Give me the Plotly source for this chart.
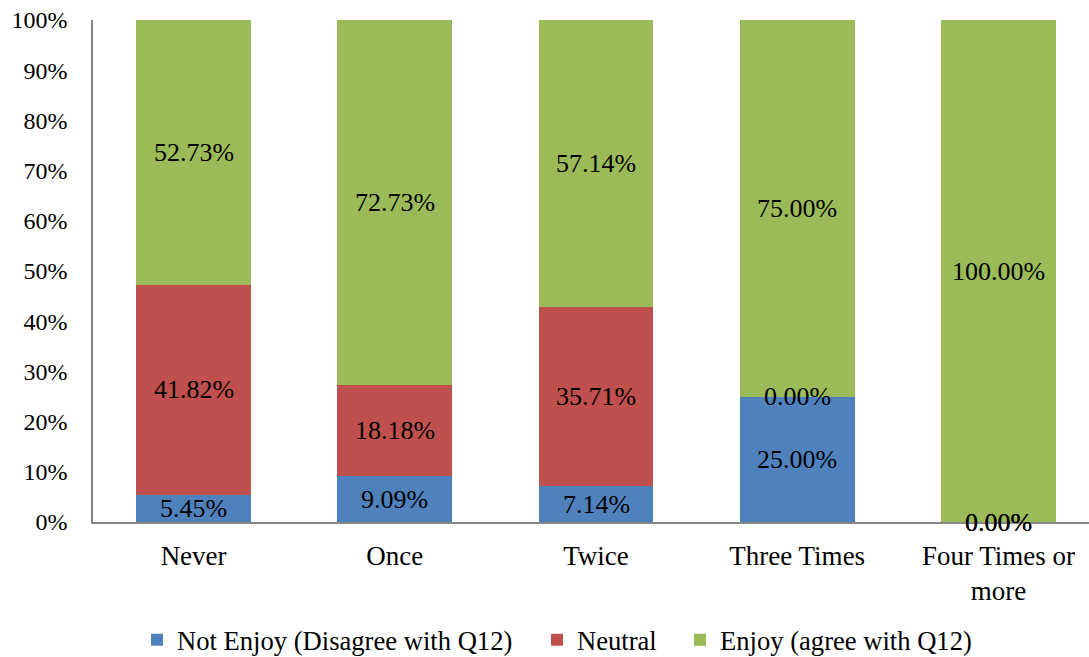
import plotly.graph_objects as go

categories = ["Never", "Once", "Twice", "Three Times", "Four Times or<br>more"]
series_names = ["Not Enjoy (Disagree with Q12)", "Neutral", "Enjoy (agree with Q12)"]
not_enjoy = [5.45, 9.09, 7.14, 25.00, 0.00]
neutral = [41.82, 18.18, 35.71, 0.00, 0.00]
enjoy = [52.73, 72.73, 57.14, 75.00, 100.00]
colors = ["#4F81BD", "#C0504D", "#9BBB59"]
y_ticks = [0, 10, 20, 30, 40, 50, 60, 70, 80, 90, 100]

FONT = "Times New Roman, Liberation Serif, serif"
series = [not_enjoy, neutral, enjoy]
legend_ids = ["legend", "legend2", "legend3"]
legend_left_px = [137, 537, 680]

PLOT_L, PLOT_W = 93, 996

fig = go.Figure()
for name, vals, col, lg in zip(series_names, series, colors, legend_ids):
    fig.add_trace(go.Bar(
        x=categories, y=vals, name=name,
        marker=dict(color=col, line=dict(width=0)),
        hoverinfo="skip", legend=lg,
    ))

# value labels centred on each stacked segment (zero segments sit on their base)
annotations = []
for i, cat in enumerate(categories):
    base = 0.0
    for vals in series:
        v = vals[i]
        annotations.append(dict(
            x=cat, y=base + v / 2, xref="x", yref="y",
            text=f"{v:.2f}%", showarrow=False,
            font=dict(family=FONT, size=26, color="#000000"),
        ))
        base += v

legend_common = dict(
    orientation="h", xanchor="left", y=-0.235, yanchor="middle",
    font=dict(family=FONT, size=26.6, color="#000000"),
    itemwidth=30, bgcolor="rgba(0,0,0,0)",
)
legends = {}
for lg, px in zip(legend_ids, legend_left_px):
    legends[lg] = dict(legend_common, x=(px - PLOT_L) / PLOT_W)

fig.update_layout(
    barmode="stack",
    bargap=0.43,
    width=1089, height=657,
    margin=dict(l=PLOT_L, r=0, t=20, b=135, autoexpand=False),
    paper_bgcolor="white", plot_bgcolor="white",
    font=dict(family=FONT, size=24, color="#000000"),
    annotations=annotations,
    showlegend=True,
    **legends,
)
fig.update_xaxes(
    range=[-0.5, 4.45],
    showline=True, linecolor="#868686", linewidth=1.5,
    showgrid=False, ticks="", ticklabelstandoff=9,
    tickfont=dict(family=FONT, size=27),
)
fig.update_yaxes(
    range=[0, 100], tickvals=y_ticks, ticktext=[f"{t}%" for t in y_ticks],
    showline=True, linecolor="#868686", linewidth=1.5,
    showgrid=False, ticks="", ticklabelstandoff=19,
    tickfont=dict(family=FONT, size=24),
)

fig.write_html("out.html")
